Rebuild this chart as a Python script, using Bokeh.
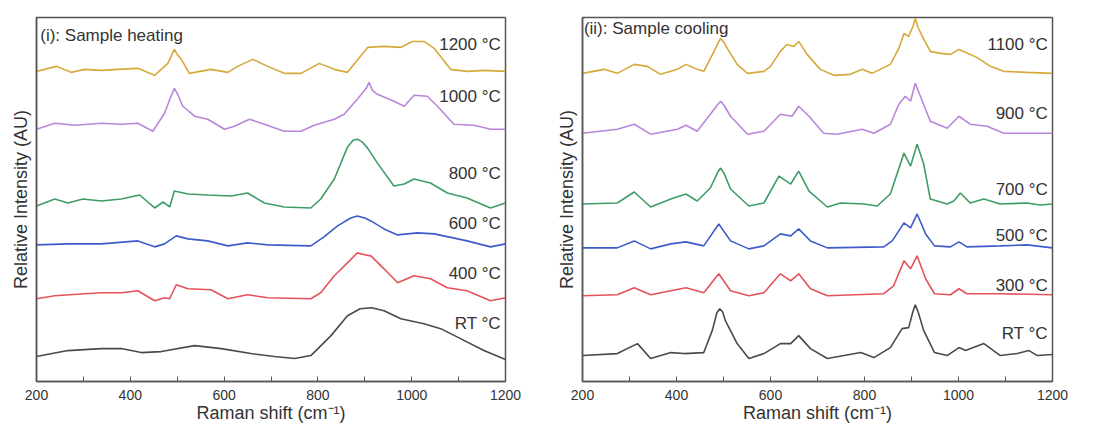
from bokeh.plotting import figure
from bokeh.layouts import row
from bokeh.models import Range1d, FixedTicker, ColumnDataSource
from bokeh.core.properties import value
from bokeh.embed import file_html
from bokeh.resources import INLINE

FONT = "Liberation Sans"

# ---------------- Panel (i): heating ----------------
h1200_x = [200, 243, 274, 303, 338, 374, 416, 452, 480, 488, 494, 500, 509, 526, 572, 608, 629, 661, 693, 728, 764, 803, 835, 863, 906, 941, 977, 1001, 1026, 1048, 1083, 1118, 1154, 1200]
h1200_y = [311, 316, 310, 313, 312, 313, 314, 307, 319, 327, 333, 328, 323, 309, 313, 310, 316, 323, 316, 309, 309, 319, 313, 310, 335, 336, 335, 341, 341, 334, 313, 311, 312, 311]

h1000_x = [200, 239, 282, 338, 381, 416, 448, 473, 486, 494, 500, 512, 537, 565, 601, 622, 654, 686, 728, 764, 792, 835, 856, 884, 903, 909, 916, 927, 962, 984, 1005, 1033, 1055, 1090, 1133, 1168, 1200]
h1000_y = [253, 259, 257, 259, 258, 259, 251, 269, 285, 294, 289, 276, 266, 263, 253, 256, 263, 258, 251, 251, 257, 263, 268, 283, 294, 300, 292, 288, 281, 276, 287, 286, 276, 258, 257, 253, 253]

h800_x = [200, 239, 267, 299, 338, 381, 420, 452, 470, 484, 494, 523, 565, 615, 650, 686, 728, 785, 806, 835, 863, 875, 884, 895, 906, 927, 962, 984, 1005, 1040, 1076, 1118, 1168, 1200]
h800_y = [176, 183, 179, 183, 181, 183, 187, 174, 180, 175, 191, 188, 187, 186, 189, 179, 175, 174, 183, 203, 235, 242, 243, 240, 234, 219, 196, 198, 203, 199, 189, 184, 174, 179]

h600_x = [200, 267, 338, 416, 452, 473, 498, 523, 565, 608, 650, 693, 785, 813, 842, 870, 884, 900, 913, 941, 970, 1012, 1048, 1118, 1168, 1200]
h600_y = [137, 138, 138, 141, 135, 138, 146, 143, 141, 136, 139, 137, 136, 145, 156, 164, 166, 164, 161, 153, 147, 149, 148, 141, 135, 138]

h400_x = [200, 239, 303, 338, 381, 416, 452, 473, 484, 498, 523, 572, 608, 650, 693, 785, 806, 835, 863, 884, 900, 913, 941, 970, 1005, 1040, 1076, 1118, 1168, 1200]
h400_y = [83, 86, 88, 89, 89, 91, 81, 84, 83, 97, 93, 92, 83, 87, 84, 83, 89, 106, 119, 129, 127, 126, 113, 99, 106, 103, 94, 91, 81, 84]

hRT_x = [200, 267, 338, 381, 423, 466, 537, 594, 657, 707, 750, 785, 828, 863, 890, 915, 941, 977, 1026, 1062, 1104, 1154, 1200]
hRT_y = [25, 31, 33, 33, 29, 30, 36, 33, 28, 25, 23, 26, 46, 66, 73, 74, 71, 63, 58, 53, 43, 31, 22]

heat_labels = ["1200 °C", "1000 °C", "800 °C", "600 °C", "400 °C", "RT °C"]
heat_label_y = [338, 286, 209, 158, 108, 58]

# ---------------- Panel (ii): cooling ----------------
c1100_x = [200, 246, 274, 310, 338, 366, 402, 420, 444, 458, 480, 488, 494, 501, 508, 529, 551, 586, 600, 621, 635, 650, 660, 678, 706, 735, 770, 795, 816, 855, 873, 884, 894, 903, 908, 914, 923, 940, 962, 983, 1001, 1011, 1039, 1068, 1096, 1146, 1200]
c1100_y = [309, 313, 309, 318, 316, 308, 313, 318, 313, 311, 331, 339, 344, 340, 334, 318, 309, 311, 316, 331, 338, 336, 341, 328, 313, 307, 308, 313, 309, 318, 334, 349, 346, 356, 364, 355, 346, 331, 329, 328, 333, 331, 325, 316, 311, 310, 309]

c900_x = [200, 274, 310, 345, 402, 420, 444, 472, 488, 494, 501, 515, 551, 586, 621, 646, 660, 682, 713, 742, 795, 820, 855, 873, 887, 898, 908, 923, 940, 976, 1001, 1025, 1061, 1096, 1200]
c900_y = [249, 253, 258, 248, 253, 257, 251, 268, 278, 281, 277, 266, 248, 251, 268, 266, 276, 266, 249, 248, 253, 249, 258, 278, 286, 281, 299, 281, 261, 254, 266, 258, 256, 249, 249]

c700_x = [200, 274, 310, 345, 388, 420, 444, 472, 488, 494, 501, 515, 554, 586, 618, 643, 660, 682, 721, 749, 799, 827, 855, 884, 898, 912, 926, 940, 976, 990, 1004, 1025, 1054, 1089, 1146, 1174, 1200]
c700_y = [178, 179, 190, 175, 183, 188, 181, 194, 210, 214, 209, 193, 176, 179, 206, 198, 211, 191, 175, 179, 178, 176, 188, 229, 216, 238, 218, 183, 178, 181, 189, 179, 183, 178, 179, 177, 178]

c500_x = [200, 274, 310, 345, 388, 420, 458, 490, 515, 554, 586, 621, 643, 660, 685, 721, 841, 859, 884, 898, 912, 930, 949, 983, 1001, 1018, 1089, 1146, 1200]
c500_y = [134, 134, 141, 133, 138, 140, 136, 158, 141, 133, 136, 148, 146, 153, 141, 134, 135, 141, 159, 154, 168, 148, 136, 135, 140, 135, 136, 137, 134]

c300_x = [200, 274, 310, 345, 388, 420, 458, 490, 515, 554, 586, 621, 643, 660, 685, 721, 841, 862, 884, 898, 912, 930, 949, 983, 1001, 1018, 1089, 1200]
c300_y = [86, 87, 94, 87, 91, 94, 89, 108, 91, 86, 89, 108, 101, 108, 93, 86, 88, 96, 121, 113, 126, 103, 88, 87, 93, 88, 88, 87]

cRT_x = [200, 274, 317, 345, 388, 416, 458, 476, 486, 492, 498, 504, 529, 554, 586, 621, 643, 660, 685, 721, 792, 820, 855, 880, 894, 903, 908, 914, 926, 949, 976, 1001, 1015, 1054, 1089, 1125, 1150, 1168, 1200]
cRT_y = [26, 28, 38, 23, 29, 28, 29, 51, 69, 73, 70, 61, 38, 23, 28, 38, 38, 46, 33, 23, 29, 24, 34, 53, 54, 70, 77, 70, 51, 29, 26, 34, 31, 38, 26, 28, 31, 26, 27]

cool_labels = ["1100 °C", "900 °C", "700 °C", "500 °C", "300 °C", "RT °C"]
cool_label_y = [338, 269, 193, 146, 96, 48]

colors = ["#D6A93A", "#B886DA", "#3F9C66", "#3D5CC9", "#E4525C", "#4A4A4A"]
x_ticks = [200, 400, 600, 800, 1000, 1200]
x_minor = [300, 500, 700, 900, 1100]


def make_panel(series, labels, label_y, title, title_xy, borders, width, height):
    bl, br, bt, bb = borders
    p = figure(width=width, height=height, output_backend="svg", toolbar_location=None,
               x_range=Range1d(200, 1200), y_range=Range1d(0, 365),
               min_border_left=bl, min_border_right=br, min_border_top=bt, min_border_bottom=bb)
    p.xgrid.visible = False
    p.ygrid.visible = False
    p.background_fill_color = "white"
    p.border_fill_color = "white"
    p.outline_line_color = "#555555"
    p.outline_line_width = 1.5
    for (xs, ys), c in zip(series, colors):
        p.line(xs, ys, line_color=c, line_width=1.6)
    src = ColumnDataSource(dict(x=[1190] * len(labels), y=label_y, t=labels))
    p.text(x="x", y="y", text="t", source=src, text_font=value(FONT), text_font_size="17px",
           text_color="#333333", text_align="right", text_baseline="middle")
    p.text(x=[title_xy[0]], y=[title_xy[1]], text=[title], text_font=value(FONT), text_font_size="17px",
           text_color="#333333", text_align="left", text_baseline="middle")
    ax = p.xaxis[0]
    ax.ticker = FixedTicker(ticks=x_ticks, minor_ticks=x_minor)
    ax.major_tick_in = 5
    ax.major_tick_out = 0
    ax.minor_tick_in = 5
    ax.minor_tick_out = 0
    ax.major_tick_line_color = "#555555"
    ax.minor_tick_line_color = "#555555"
    ax.axis_line_color = "#555555"
    ax.axis_line_width = 1.5
    ax.major_label_text_font = FONT
    ax.major_label_text_font_size = "14px"
    ax.major_label_text_color = "#333333"
    ax.major_label_standoff = 8
    ax.axis_label = "Raman shift (cm⁻¹)"
    ax.axis_label_text_font = FONT
    ax.axis_label_text_font_size = "18px"
    ax.axis_label_text_font_style = "normal"
    ax.axis_label_text_color = "#333333"
    ax.axis_label_standoff = 0
    ay = p.yaxis[0]
    ay.ticker = FixedTicker(ticks=[])
    ay.major_tick_in = 0
    ay.major_tick_out = 0
    ay.minor_tick_in = 0
    ay.minor_tick_out = 0
    ay.axis_line_color = "#555555"
    ay.axis_line_width = 1.5
    ay.major_label_standoff = 0
    ay.axis_label = "Relative Intensity (AU)"
    ay.axis_label_text_font = FONT
    ay.axis_label_text_font_size = "18px"
    ay.axis_label_text_font_style = "normal"
    ay.axis_label_text_color = "#333333"
    ay.axis_label_standoff = 6
    return p


heat_series = [(h1200_x, h1200_y), (h1000_x, h1000_y), (h800_x, h800_y),
               (h600_x, h600_y), (h400_x, h400_y), (hRT_x, hRT_y)]
cool_series = [(c1100_x, c1100_y), (c900_x, c900_y), (c700_x, c700_y),
               (c500_x, c500_y), (c300_x, c300_y), (cRT_x, cRT_y)]

p1 = make_panel(heat_series, heat_labels, heat_label_y, "(i): Sample heating", (208, 347),
                (36, 40, 17, 45), 545, 427)
p2 = make_panel(cool_series, cool_labels, cool_label_y, "(ii): Sample cooling", (203, 354),
                (37, 30, 15, 46), 537, 427)

layout = row(p1, p2)
open("out.html", "w").write(file_html(layout, INLINE))
